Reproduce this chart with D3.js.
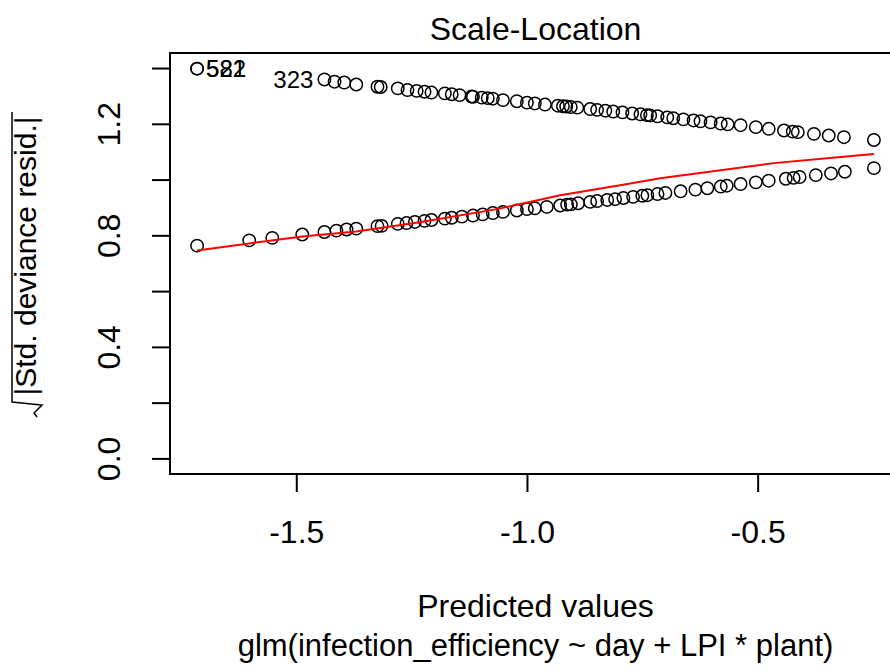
<!DOCTYPE html>
<html>
<head>
<meta charset="utf-8">
<script src="https://cdn.jsdelivr.net/npm/d3@7"></script>
<style>
  body { margin: 0; background: #fff; }
  text { font-family: "Liberation Sans", Arial, sans-serif; fill: #000; }
</style>
</head>
<body>
<div class="canvas"></div>
<script>
// predicted values (link scale) and sqrt|std. deviance resid.|, upper band
const upperX = [-1.715, -1.715, -1.439, -1.417, -1.396, -1.370, -1.324, -1.317, -1.280, -1.259,
    -1.239, -1.222, -1.207, -1.178, -1.163, -1.146, -1.120, -1.117, -1.098, -1.085,
    -1.074, -1.052, -1.022, -1.000, -0.983, -0.961, -0.933, -0.922, -0.915, -0.905,
    -0.891, -0.863, -0.848, -0.830, -0.813, -0.793, -0.772, -0.754, -0.740, -0.733,
    -0.717, -0.696, -0.683, -0.661, -0.639, -0.624, -0.602, -0.580, -0.565, -0.537,
    -0.504, -0.476, -0.443, -0.424, -0.413, -0.378, -0.346, -0.313, -0.248];
const upperY = [1.398, 1.398, 1.359, 1.351, 1.348, 1.341, 1.333, 1.332, 1.327, 1.321,
    1.318, 1.315, 1.312, 1.309, 1.306, 1.303, 1.298, 1.297, 1.294, 1.292,
    1.290, 1.285, 1.281, 1.276, 1.273, 1.269, 1.265, 1.263, 1.262, 1.260,
    1.258, 1.253, 1.250, 1.247, 1.244, 1.241, 1.237, 1.234, 1.231, 1.230,
    1.227, 1.223, 1.220, 1.216, 1.212, 1.209, 1.205, 1.201, 1.198, 1.195,
    1.188, 1.182, 1.176, 1.172, 1.170, 1.164, 1.158, 1.152, 1.142];

// lower band
const lowerX = [-1.715, -1.602, -1.552, -1.487, -1.439, -1.413, -1.391, -1.370, -1.324, -1.315,
    -1.280, -1.261, -1.243, -1.222, -1.207, -1.178, -1.163, -1.141, -1.117, -1.096,
    -1.074, -1.052, -1.022, -1.000, -0.983, -0.957, -0.928, -0.913, -0.905, -0.889,
    -0.863, -0.848, -0.826, -0.809, -0.791, -0.770, -0.750, -0.739, -0.717, -0.700,
    -0.667, -0.635, -0.609, -0.580, -0.567, -0.537, -0.504, -0.476, -0.439, -0.422,
    -0.409, -0.374, -0.341, -0.311, -0.248];
const lowerY = [0.763, 0.782, 0.791, 0.803, 0.812, 0.817, 0.821, 0.824, 0.833, 0.834,
    0.841, 0.844, 0.848, 0.852, 0.855, 0.860, 0.863, 0.867, 0.871, 0.875,
    0.880, 0.884, 0.889, 0.894, 0.897, 0.902, 0.907, 0.910, 0.911, 0.915,
    0.920, 0.923, 0.927, 0.930, 0.934, 0.938, 0.942, 0.944, 0.948, 0.952,
    0.958, 0.964, 0.969, 0.975, 0.978, 0.984, 0.990, 0.996, 1.003, 1.006,
    1.009, 1.016, 1.022, 1.028, 1.041];

// lowess smoother (red)
const smoothX = [-1.715, -1.602, -1.487, -1.370, -1.233, -1.065, -0.928, -0.798, -0.711, -0.609, -0.465, -0.320, -0.248];
const smoothY = [0.746, 0.771, 0.796, 0.814, 0.847, 0.894, 0.944, 0.980, 1.005, 1.027, 1.059, 1.081, 1.092];

// labelled observations (index into upper band)
const idIndex = [0, 1, 2];
const idText = ['582', '521', '323'];

const xTicks = [-1.5, -1.0, -0.5];
const yTicks = [0, 0.2, 0.4, 0.6, 0.8, 1.0, 1.2, 1.4];
const yTickLabels = ['0.0', '', '0.4', '', '0.8', '', '1.2', ''];

const width = 890;
const height = 671;
const plot = { left: 170, right: 901, top: 53, bottom: 474 };

const svg = d3.select('.canvas')
    .append('svg')
    .attr('width', width)
    .attr('height', height);

// R style limits: data range plus 4%
const allX = upperX.concat(lowerX);
const xMin = d3.min(allX), xMax = d3.max(allX);
const xPad = (xMax - xMin) * 0.04;
const yMax = d3.max(upperY.concat(lowerY));
const yPad = yMax * 0.04;

const x = d3.scaleLinear()
    .domain([xMin - xPad, xMax + xPad])
    .range([plot.left, plot.right]);
const y = d3.scaleLinear()
    .domain([0 - yPad, yMax + yPad])
    .range([plot.bottom, plot.top]);

// axes
const xAxisGroup = svg.append('g')
    .attr('transform', `translate(0, ${plot.bottom})`)
    .call(d3.axisBottom(x).tickValues(xTicks).tickSize(18).tickPadding(28)
        .tickFormat(d => d3.format('.1f')(d).replace('−', '-')));
xAxisGroup.select('.domain').remove();
xAxisGroup.selectAll('line').attr('stroke', '#000').attr('stroke-width', 2);
xAxisGroup.selectAll('text')
    .attr('font-size', 32)
    .attr('fill', '#000')
    .style('font-family', '"Liberation Sans", Arial, sans-serif');

const yAxisGroup = svg.append('g')
    .attr('transform', `translate(${plot.left}, 0)`)
    .call(d3.axisLeft(y).tickValues(yTicks).tickSize(18).tickFormat((d, i) => yTickLabels[i]));
yAxisGroup.select('.domain').remove();
yAxisGroup.selectAll('line').attr('stroke', '#000').attr('stroke-width', 2);
yAxisGroup.selectAll('text')
    .attr('font-size', 32)
    .attr('fill', '#000')
    .attr('text-anchor', 'middle')
    .attr('x', null)
    .attr('dy', null)
    .attr('transform', 'translate(-50, 0) rotate(-90)')
    .style('font-family', '"Liberation Sans", Arial, sans-serif');

// box
svg.append('rect')
    .attr('x', plot.left)
    .attr('y', plot.top)
    .attr('width', plot.right - plot.left)
    .attr('height', plot.bottom - plot.top)
    .attr('fill', 'none')
    .attr('stroke', '#000')
    .attr('stroke-width', 2);

// points
const points = d3.zip(upperX, upperY).concat(d3.zip(lowerX, lowerY));
svg.append('g').selectAll('circle')
    .data(points)
    .enter()
    .append('circle')
    .attr('cx', d => x(d[0]))
    .attr('cy', d => y(d[1]))
    .attr('r', 6.2)
    .attr('fill', 'none')
    .attr('stroke', '#000')
    .attr('stroke-width', 1.5);

// smoother
const line = d3.line().x(d => x(d[0])).y(d => y(d[1]));
svg.append('path')
    .datum(d3.zip(smoothX, smoothY))
    .attr('d', line)
    .attr('fill', 'none')
    .attr('stroke', '#ff0000')
    .attr('stroke-width', 2);

// id labels: right of point if left of the labelled points' midrange
const idMid = (d3.min(idIndex, i => upperX[i]) + d3.max(idIndex, i => upperX[i])) / 2;
svg.append('g').selectAll('text')
    .data(idIndex)
    .enter()
    .append('text')
    .attr('x', i => upperX[i] > idMid ? x(upperX[i]) - 11 : x(upperX[i]) + 9)
    .attr('y', i => y(upperY[i]) + 8.5)
    .attr('text-anchor', i => upperX[i] > idMid ? 'end' : 'start')
    .attr('font-size', 24)
    .text((i, k) => idText[k]);

// titles
const cx = (plot.left + plot.right) / 2;
svg.append('text')
    .attr('x', cx).attr('y', 40)
    .attr('text-anchor', 'middle')
    .attr('font-size', 32)
    .text('Scale-Location');

svg.append('text')
    .attr('x', cx).attr('y', 617)
    .attr('text-anchor', 'middle')
    .attr('font-size', 32)
    .text('Predicted values');

svg.append('text')
    .attr('x', cx).attr('y', 656)
    .attr('text-anchor', 'middle')
    .attr('font-size', 31)
    .text('glm(infection_efficiency ~ day + LPI * plant)');

// y label: sqrt(|Std. deviance resid.|)
const yLabelMid = 256;
svg.append('text')
    .attr('transform', `translate(36, ${yLabelMid}) rotate(-90)`)
    .attr('text-anchor', 'middle')
    .attr('font-size', 30)
    .text('|Std. deviance resid.|');

svg.append('path')
    .attr('d', 'M12,112 V402 L42,405 L34,413 L37,417')
    .attr('fill', 'none')
    .attr('stroke', '#000')
    .attr('stroke-width', 1.5);
</script>
</body>
</html>
